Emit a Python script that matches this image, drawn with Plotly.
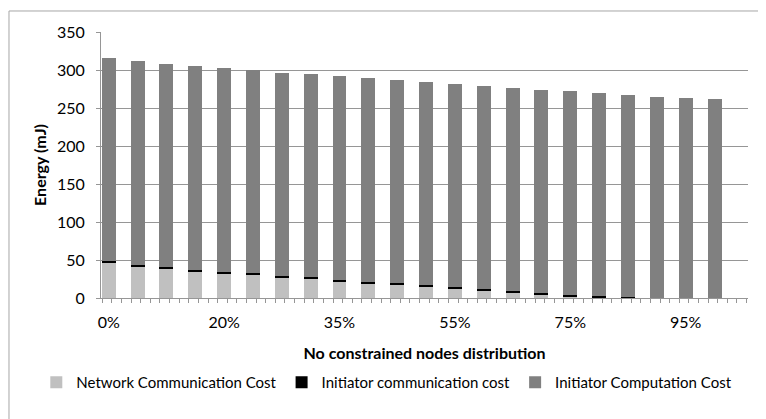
import plotly.graph_objects as go

# x categories (no constrained nodes share), one bar each
categories = ["0%", "5%", "10%", "15%", "20%", "25%", "30%", "33%", "35%", "40%", "45%",
              "50%", "55%", "60%", "65%", "70%", "75%", "80%", "85%", "90%", "95%", "100%"]
label_every = 4

# energy in mJ
total_energy = [316, 312, 308.5, 305, 302, 299.5, 296.5, 294.5, 291.5, 289, 286.5,
                284.5, 281.5, 279, 276.5, 274, 272, 269.5, 267, 265, 263.5, 262.5]
network_comm = [46.5, 42, 38.5, 35, 32.5, 30.5, 27.5, 25.5, 22, 19.5, 17.5,
                15, 12.5, 10, 7.5, 4.8, 2.6, 0.8, 0, 0, 0, 0]
initiator_comm = [2, 2, 2, 2, 2, 2, 2, 2, 2, 2, 2,
                  2, 2, 2, 2, 2, 2, 2, 1, 0, 0, 0]
initiator_comp = [t - n - c for t, n, c in zip(total_energy, network_comm, initiator_comm)]

x_idx = list(range(len(categories)))
tick_idx = x_idx[::label_every]
tick_txt = [categories[i] for i in tick_idx]

FONT = "Lato, 'Open Sans', sans-serif"
GRID = "#969696"

fig = go.Figure()
fig.add_trace(go.Bar(x=x_idx, y=network_comm, name="Network Communication Cost",
                     marker=dict(color="#c0c0c0", line=dict(width=0))))
fig.add_trace(go.Bar(x=x_idx, y=initiator_comm, name="Initiator communication cost",
                     marker=dict(color="#000000", line=dict(width=0))))
fig.add_trace(go.Bar(x=x_idx, y=initiator_comp, name="Initiator Computation Cost",
                     marker=dict(color="#808080", line=dict(width=0))))

# page body has an 8px margin, so the figure is 8px smaller than the window
fig.update_layout(
    width=758, height=411,
    margin=dict(l=93, r=18, t=24, b=121),
    barmode="stack", bargap=0.515,
    paper_bgcolor="white", plot_bgcolor="white",
    font=dict(family=FONT, size=16, color="#000000"),
    legend=dict(orientation="h", traceorder="normal",
                x=-0.1, xanchor="left", y=-0.318, yanchor="middle",
                font=dict(size=15), itemwidth=30, tracegroupgap=0,
                bgcolor="rgba(0,0,0,0)"),
    shapes=[dict(type="rect", xref="paper", yref="paper",
                 x0=-0.1422, x1=1.04, y0=-0.5, y1=1.079,
                 line=dict(color="#a6a6a6", width=1), layer="below")],
)

fig.update_xaxes(
    range=[-0.267, 22.16], tickmode="array", tickvals=tick_idx, ticktext=tick_txt,
    ticks="outside", ticklen=4, tickcolor="rgba(0,0,0,0)",
    showgrid=False, zeroline=False,
    showline=True, linecolor=GRID, linewidth=1,
    ticklabelstandoff=6,
    minor=dict(ticks="outside", ticklen=4, tickcolor=GRID, tick0=0.11, dtick=1 / 3, showgrid=False),
    title=dict(text="<b>No constrained nodes distribution</b>", font=dict(size=16), standoff=17),
)
fig.update_yaxes(
    range=[0, 350], dtick=50, showgrid=True, gridcolor=GRID, gridwidth=1,
    zeroline=False, showline=True, linecolor=GRID, linewidth=1,
    ticks="outside", ticklen=4, tickcolor=GRID, ticklabelstandoff=8,
    title=dict(text="<b>Energy (mJ)</b>", font=dict(size=16), standoff=6),
)

fig.write_html("out.html")
